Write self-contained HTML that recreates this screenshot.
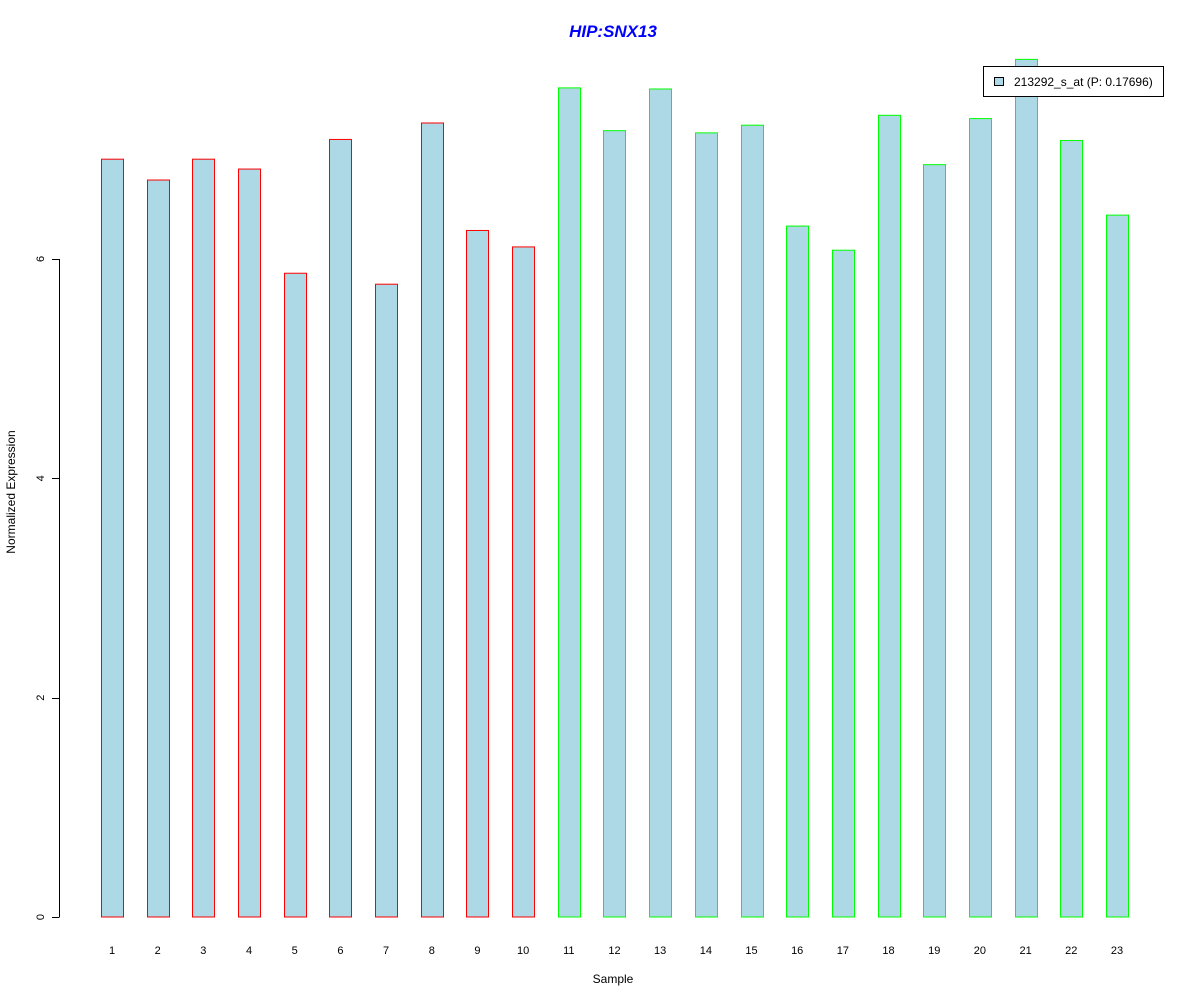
<!DOCTYPE html>
<html><head><meta charset="utf-8"><style>
body{margin:0;background:#fff}
svg text{font-family:"Liberation Sans",Arial,sans-serif}
</style></head><body>
<svg id="chart" width="1200" height="1000" xmlns="http://www.w3.org/2000/svg">
<rect width="1200" height="1000" fill="#fff"/>
<text x="613" y="37" text-anchor="middle" font-size="17" font-weight="bold" font-style="italic" fill="#0000ff">HIP:SNX13</text>
<text x="613" y="983" text-anchor="middle" font-size="12">Sample</text>
<text transform="translate(15,492) rotate(-90)" text-anchor="middle" font-size="12">Normalized Expression</text>
<g id="yaxis"></g>
<g id="bars"></g>
<g id="xlabels"></g>
<g>
<rect x="983.5" y="66.5" width="180" height="30" fill="#fff" stroke="#000"/>
<rect x="994.5" y="77.5" width="9" height="8" fill="#add8e6" stroke="#000"/>
<text x="1014" y="86" font-size="12">213292_s_at (P: 0.17696)</text>
</g>
</svg>
<script>
const categories=["1","2","3","4","5","6","7","8","9","10","11","12","13","14","15","16","17","18","19","20","21","22","23"];
const values=[6.91,6.72,6.91,6.82,5.87,7.09,5.77,7.24,6.26,6.11,7.56,7.17,7.55,7.15,7.22,6.30,6.08,7.31,6.86,7.28,7.82,7.08,6.40];
const groups=["red","red","red","red","red","red","red","red","red","red","green","green","green","green","green","green","green","green","green","green","green","green","green"];
const yTicks=[0,2,4,6];
const NS="http://www.w3.org/2000/svg";
const y=v=>917-v*109.67;
const x=i=>112+i*45.68;
const borderColor={red:"#ff0000",green:"#00ff00"};
function mk(t,a,p){const e=document.createElementNS(NS,t);for(const k in a)e.setAttribute(k,a[k]);p.appendChild(e);return e;}
const ya=document.getElementById('yaxis');
const l=mk('line',{x1:59.5,x2:59.5,y1:y(yTicks[0]),y2:y(yTicks[yTicks.length-1]),stroke:'#000'},ya);


yTicks.forEach(t=>{
 const tk=mk('line',{x1:52,x2:59.5,y1:Math.round(y(t))+0.5,y2:Math.round(y(t))+0.5,stroke:'#000'},ya);
 
 
 const tx=mk('text',{transform:`translate(44,${y(t)}) rotate(-90)`,'text-anchor':'middle','font-size':11},ya);
 tx.textContent=t;
 
 
});
const bg=document.getElementById('bars'),xl=document.getElementById('xlabels');
values.forEach((v,i)=>{
 const b=mk('rect',{x:Math.round(x(i)-11)+0.5,y:y(v),width:22,height:917-y(v),fill:'#add8e6',stroke:borderColor[groups[i]]},bg);
 
 
 const t=mk('text',{x:x(i),y:954,'text-anchor':'middle','font-size':11},xl);
 t.textContent=categories[i];
 
 
});
</script>
</body></html>
